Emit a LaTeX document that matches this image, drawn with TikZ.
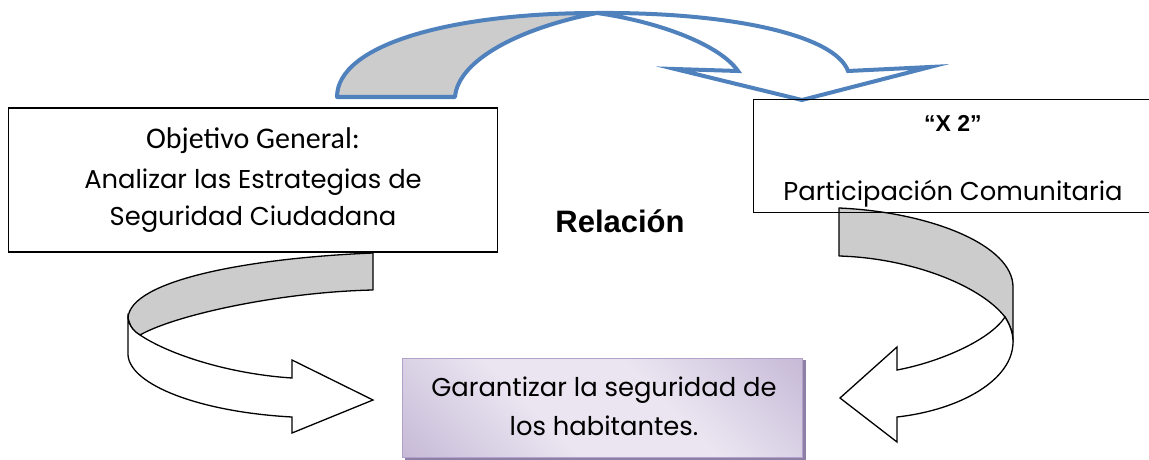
\documentclass[tikz,border=0pt]{standalone}
\usepackage{fontspec}
\setmainfont{Poppins}
\newfontfamily\cgfont{Poppins}
\newfontfamily\calfont{Carlito}
\newfontfamily\arfont{Liberation Sans}
\definecolor{blueline}{HTML}{4F81BD}
\definecolor{graybk}{HTML}{CCCCCC}
\definecolor{pdark}{HTML}{B2A1C8}
\definecolor{plight}{HTML}{EAE5F1}
\definecolor{pshadow}{HTML}{8E7FA6}
\pgfdeclarehorizontalshading{purpband}{100bp}{color(0bp)=(pdark); color(40bp)=(plight); color(60bp)=(plight); color(100bp)=(pdark)}
\begin{document}
\begin{tikzpicture}[x=1pt,y=-1pt,
  topback/.style={draw=blueline, fill=graybk, line width=4pt, line join=round},
  topfront/.style={draw=blueline, fill=white, line width=4pt, line join=miter},
  lowback/.style={draw=black, fill=graybk, line width=1.3pt, line join=round},
  lowfront/.style={draw=black, fill=white, line width=1.3pt, line join=miter},
  box/.style={draw=black, line width=1.3pt, inner sep=0pt},
  cg/.style={font=\cgfont\fontsize{25.8}{30}\selectfont, inner sep=0pt, anchor=base},
  txt/.style={inner sep=0pt, anchor=base}]
\useasboundingbox (0,0) rectangle (1149,460);

% top arrow
\path[topback] (337,97) .. controls (337,45) and (450,13) .. (597,13)
  .. controls (520,28) and (458,60) .. (455,97) -- cycle;
\path[topfront] (597,13) .. controls (730,12) and (835,35) .. (848,71)
  -- (930,67) -- (802,100) -- (675,69) -- (738,71)
  .. controls (720,45) and (660,22) .. (597,13) -- cycle;

% lower left arrow
\path[lowback] (373,253) .. controls (250,258) and (130,280) .. (128,318)
  .. controls (130,328) and (135,332) .. (140,335)
  .. controls (175,315) and (280,292) .. (373,290) -- cycle;
\path[lowfront] (128,318) -- (128,355) .. controls (130,385) and (200,412) .. (292,417)
  -- (292,433) -- (373,400) -- (292,360) -- (292,378)
  .. controls (230,374) and (170,355) .. (140,335)
  .. controls (135,332) and (130,328) .. (128,318) -- cycle;

% lower right arrow
\path[lowback] (839,208) .. controls (930,212) and (1013,245) .. (1013,287)
  -- (1013,342) .. controls (1013,333) and (1010,325) .. (1005,317)
  .. controls (980,285) and (910,258) .. (839,256) -- cycle;
\path[lowfront] (1005,317) .. controls (1010,325) and (1013,333) .. (1013,342)
  .. controls (1013,380) and (960,410) .. (897,417)
  -- (897,442) -- (840,398) -- (897,347) -- (897,370)
  .. controls (940,362) and (990,340) .. (1005,317) -- cycle;

% boxes
\node[box, minimum width=489pt, minimum height=144pt] (obj) at (253,180) {};
\node[box, minimum width=406pt, minimum height=113pt, anchor=north west] (xbox) at (753,99) {};

% bottom box
\fill[pshadow] (405,360) rectangle (806,460);
\shade[shading=purpband, shading angle=45] (402,358) rectangle (802,457);
\node[draw=pdark, line width=0.6pt, minimum width=400pt, minimum height=99pt, inner sep=0pt] (gar) at (602,407.5) {};

% texts
\node[txt, font=\calfont\fontsize{30}{36}\selectfont] (t1) at (253,148) {Objetivo General:};
\node[cg] (t2) at (253,188) {Analizar las Estrategias de};
\node[cg] (t3) at (253,225) {Seguridad Ciudadana};
\node[txt, font=\arfont\bfseries\fontsize{23}{26}\selectfont] (t4) at (953,131) {“X 2”};
\node[cg] (t5) at (953,200) {Participación Comunitaria};
\node[txt, font=\arfont\bfseries\fontsize{31}{34}\selectfont] (rel) at (620,232) {Relación};
\node[cg] (g1) at (604,396) {Garantizar la seguridad de};
\node[cg] (g2) at (604,435) {los habitantes.};
\end{tikzpicture}
\end{document}
